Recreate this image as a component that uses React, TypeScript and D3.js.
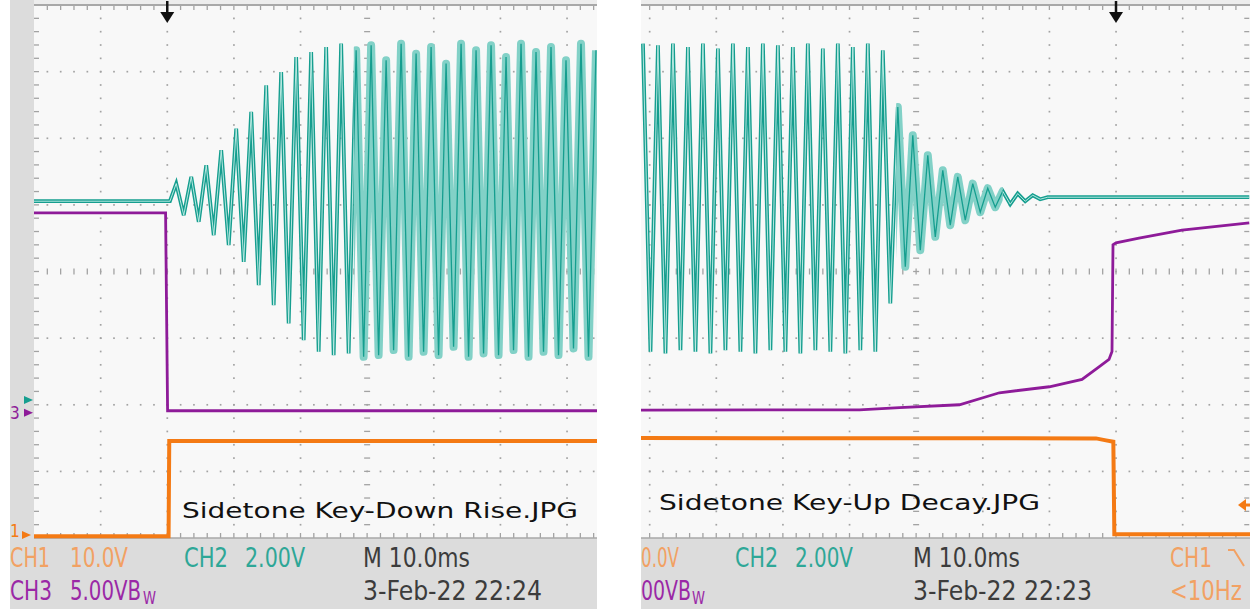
import { useMemo } from "react";
import * as d3 from "d3";

type Pt = [number, number];

const W = 1250;
const H = 609;
const DIV = 66.625;
const SCREEN_TOP = 5;
const SCREEN_BOTTOM = 538;

const ORANGE = "#f47a14";
const TEAL = "#159e8f";
const TEAL_LIGHT = "#82d1c7";
const PURPLE = "#8e1b99";

// channel settings: volts per division and ground marker (divisions from centre)
const CH1_VDIV = 10;
const CH1_GND = -3.955;
const CH2_VDIV = 2;
const CH2_GND = -1.93;
const CH3_VDIV = 5;
const CH3_GND = -2.12;

// time between successive extremes of the sidetone, ms
const HALF_PERIOD = 1.125;

// ---- key-down capture (trigger at 0 ms, 10 ms/div) ----
const riseTime = [-20, 80];
const riseCh2Idle = 5.97;
const riseCh2Start = 1.35;
const riseCh2Peaks = [
  6.5, 5.55, 6.7, 5.35, 7.05, 4.95, 7.5, 4.65, 8.15, 4.15,
  8.65, 3.45, 9.45, 2.85, 9.85, 2.3, 10.3, 1.8, 10.45, 1.45,
  10.6, 1.35, 10.7, 1.4, 10.5, 1.3, 10.65, 1.35, 10.2, 1.5,
  10.7, 1.3, 10.4, 1.45, 10.6, 1.35, 10.1, 1.6, 10.7, 1.3,
  10.5, 1.4, 10.65, 1.35, 10.3, 1.5, 10.7, 1.3, 10.45, 1.45,
  10.6, 1.35, 10.2, 1.55, 10.7, 1.3, 10.5,
];
const riseCh1: Pt[] = [[-20, -0.2], [0.2, -0.2], [0.3, 14.1], [70, 14.1]];
const riseCh3: Pt[] = [[-20, 15], [-0.25, 15], [0.05, 0.15], [70, 0.15]];
const riseLight = [28, 80];

// ---- key-up capture ----
const decayTime = [-80, 20];
const decayCh2Start = -71.0;
const decayCh2Peaks = [
  10.7, 1.45, 10.65, 1.4, 10.7, 1.5, 10.6, 1.45, 10.7, 1.4,
  10.55, 1.5, 10.7, 1.45, 10.6, 1.4, 10.7, 1.5, 10.65, 1.45,
  10.6, 1.4, 10.7, 1.5, 10.55, 1.45, 10.7, 1.4, 10.6, 1.5,
  10.7, 1.45, 10.5,
  2.9, 8.8, 4.0, 7.95, 4.5, 7.35, 4.9, 6.9, 5.25, 6.7,
  5.4, 6.5, 5.64, 6.36, 5.79, 6.27, 5.88, 6.2, 5.97, 6.15, 6.03,
];
const decayCh2Idle = 6.09;
const decayCh1: Pt[] = [[-75, 14.55], [-3, 14.5], [-1.5, 14.2], [-0.4, 14.0], [-0.25, 0.1], [25, 0.1]];
const decayCh3: Pt[] = [
  [-75, 0.2], [-38.5, 0.22], [-32.5, 0.38], [-23.5, 0.6], [-17.5, 1.5], [-10, 1.95],
  [-5.1, 2.5], [-2.55, 3.45], [-1.05, 4.0], [-0.6, 4.6], [-0.45, 12.6], [0, 12.75],
  [3.45, 13.1], [9.9, 13.7], [20, 14.25],
];
const decayLight = [-33, -17];
const decayTrigLevel = 4.5;

// readouts
type Read = { text: string; x: number; y: number; w: number; c: string; size?: number };
const riseReadout: Read[] = [
  { text: "CH1", x: 10, y: 567, w: 40, c: "#f2a163" },
  { text: "10.0V", x: 70, y: 567, w: 58, c: "#f2a163" },
  { text: "CH2", x: 184, y: 567, w: 44, c: "#2ea797" },
  { text: "2.00V", x: 245, y: 567, w: 60, c: "#2ea797" },
  { text: "M 10.0ms", x: 363, y: 567, w: 107, c: "#3c3c3c" },
  { text: "CH3", x: 10, y: 600, w: 42, c: "#9a28a6" },
  { text: "5.00VB", x: 70, y: 600, w: 71, c: "#9a28a6" },
  { text: "W", x: 143, y: 604, w: 13, c: "#9a28a6", size: 17 },
  { text: "3-Feb-22 22:24", x: 363, y: 600, w: 179, c: "#3c3c3c" },
];
const decayReadout: Read[] = [
  { text: "0.0V", x: 641, y: 567, w: 38, c: "#f2a163" },
  { text: "CH2", x: 735, y: 567, w: 43, c: "#2ea797" },
  { text: "2.00V", x: 795, y: 567, w: 58, c: "#2ea797" },
  { text: "M 10.0ms", x: 913, y: 567, w: 107, c: "#3c3c3c" },
  { text: "CH1", x: 1170, y: 567, w: 42, c: "#f2a163" },
  { text: "00VB", x: 641, y: 600, w: 50, c: "#9a28a6" },
  { text: "W", x: 692, y: 604, w: 13, c: "#9a28a6", size: 17 },
  { text: "3-Feb-22 22:23", x: 913, y: 600, w: 179, c: "#3c3c3c" },
  { text: "<10Hz", x: 1170, y: 600, w: 72, c: "#f2a163" },
];

const READ_FONT = "'Liberation Sans Narrow', 'DejaVu Sans Condensed', 'Roboto', sans-serif";
const NOTE_FONT = "'DejaVu Sans', Verdana, sans-serif";

function peaksToPoints(start: number, values: number[]): Pt[] {
  return values.map((v, i) => [start + i * HALF_PERIOD, v] as Pt);
}

function Grid({ x0 }: { x0: number }) {
  const top = SCREEN_TOP;
  const step = DIV / 5;
  const items: JSX.Element[] = [];
  const dot = "#a3a3a3";
  for (let i = 1; i < 10; i++) {
    if (i === 5) continue;
    const gx = x0 + i * DIV;
    for (let j = 1; j < 40; j++) {
      items.push(<rect key={`v${i}-${j}`} x={gx - 0.8} y={top + j * step - 0.8} width={1.7} height={1.7} fill={dot} />);
    }
  }
  for (let k = 1; k < 8; k++) {
    if (k === 4) continue;
    const gy = top + k * DIV;
    for (let j = 1; j < 50; j++) {
      items.push(<rect key={`h${k}-${j}`} x={x0 + j * step - 0.8} y={gy - 0.8} width={1.7} height={1.7} fill={dot} />);
    }
  }
  const cx = x0 + 5 * DIV;
  const cy = top + 4 * DIV;
  for (let j = 1; j < 40; j++) {
    const ty = top + j * step;
    items.push(<line key={`cv${j}`} x1={cx - 3} x2={cx + 3} y1={ty} y2={ty} stroke={dot} strokeWidth={1.3} />);
  }
  for (let j = 1; j < 50; j++) {
    const tx = x0 + j * step;
    items.push(<line key={`ch${j}`} x1={tx} x2={tx} y1={cy - 3} y2={cy + 3} stroke={dot} strokeWidth={1.3} />);
    items.push(<line key={`bt${j}`} x1={tx} x2={tx} y1={top} y2={top + 5} stroke={dot} strokeWidth={1.3} />);
    items.push(<line key={`bb${j}`} x1={tx} x2={tx} y1={SCREEN_BOTTOM - 5} y2={SCREEN_BOTTOM} stroke={dot} strokeWidth={1.3} />);
  }
  for (let j = 1; j < 40; j++) {
    const ty = top + j * step;
    items.push(<line key={`bl${j}`} x1={x0} x2={x0 + 5} y1={ty} y2={ty} stroke={dot} strokeWidth={1.3} />);
    items.push(<line key={`br${j}`} x1={x0 + 10 * DIV - 5} x2={x0 + 10 * DIV} y1={ty} y2={ty} stroke={dot} strokeWidth={1.3} />);
  }
  return <g>{items}</g>;
}

type PanelProps = {
  id: string;
  screenX0: number;
  clipX0: number;
  clipX1: number;
  time: number[];
  ch1: Pt[];
  ch2: Pt[];
  ch3: Pt[];
  light: number[];
};

function Panel({ id, screenX0, clipX0, clipX1, time, ch1, ch2, ch3, light }: PanelProps) {
  const x = useMemo(
    () => d3.scaleLinear().domain(time).range([screenX0, screenX0 + 10 * DIV]),
    [time, screenX0]
  );
  const y = d3.scaleLinear().domain([-4, 4]).range([SCREEN_BOTTOM, SCREEN_TOP]);
  const trace = (vdiv: number, gnd: number) =>
    d3.line<Pt>().x((d) => x(d[0])).y((d) => y(gnd + d[1] / vdiv));

  const p1 = trace(CH1_VDIV, CH1_GND)(ch1) || "";
  const p2 = trace(CH2_VDIV, CH2_GND)(ch2) || "";
  const p3 = trace(CH3_VDIV, CH3_GND)(ch3) || "";
  const lx0 = x(light[0]);
  const lx1 = x(light[1]);
  const trigX = x(0);

  return (
    <g>
      <defs>
        <clipPath id={`${id}-screen`}>
          <rect x={clipX0} y={0} width={clipX1 - clipX0} height={SCREEN_BOTTOM + 2} />
        </clipPath>
        <clipPath id={`${id}-light`}>
          <rect x={lx0} y={0} width={lx1 - lx0} height={SCREEN_BOTTOM} />
        </clipPath>
        <clipPath id={`${id}-dark`}>
          <rect x={clipX0} y={0} width={lx0 - clipX0} height={SCREEN_BOTTOM} />
          <rect x={lx1} y={0} width={Math.max(0, clipX1 - lx1)} height={SCREEN_BOTTOM} />
        </clipPath>
      </defs>
      <rect x={clipX0} y={SCREEN_TOP} width={clipX1 - clipX0} height={SCREEN_BOTTOM - SCREEN_TOP} fill="#f8f8f8" />
      <g clipPath={`url(#${id}-screen)`}>
        <Grid x0={screenX0} />
        <line x1={clipX0} x2={clipX1} y1={SCREEN_TOP} y2={SCREEN_TOP} stroke="#a8a8a8" strokeWidth={2} />
        <line x1={clipX0} x2={clipX1} y1={SCREEN_BOTTOM} y2={SCREEN_BOTTOM} stroke="#a8a8a8" strokeWidth={1.5} />
        <path d={p1} fill="none" stroke={ORANGE} strokeWidth={4} />
        <path d={p3} fill="none" stroke={PURPLE} strokeWidth={2.8} />
        <g clipPath={`url(#${id}-light)`}>
          <path d={p2} fill="none" stroke={TEAL_LIGHT} strokeWidth={8} strokeLinejoin="round" />
          <path d={p2} fill="none" stroke={TEAL} strokeWidth={1.3} />
        </g>
        <g clipPath={`url(#${id}-dark)`}>
          <path d={p2} fill="none" stroke={TEAL} strokeWidth={3.8} />
          <path d={p2} fill="none" stroke="#c8efe9" strokeWidth={0.9} />
        </g>
      </g>
      {trigX > clipX0 && trigX < clipX1 && (
        <g>
          <line x1={trigX} x2={trigX} y1={1} y2={14} stroke="#111" strokeWidth={2.5} />
          <path d={`M${trigX - 7},12 L${trigX + 7},12 L${trigX},23 Z`} fill="#111" />
        </g>
      )}
    </g>
  );
}

function Readout({ items }: { items: Read[] }) {
  return (
    <g fontFamily={READ_FONT}>
      {items.map((d) => (
        <text key={`${d.text}-${d.x}-${d.y}`} x={d.x} y={d.y} fill={d.c} fontSize={d.size ?? 27}
          textLength={d.w} lengthAdjust="spacingAndGlyphs">
          {d.text}
        </text>
      ))}
    </g>
  );
}

export default function App() {
  const riseCh2: Pt[] = [
    [riseTime[0], riseCh2Idle],
    [0.4, riseCh2Idle],
    ...peaksToPoints(riseCh2Start, riseCh2Peaks),
  ];
  const decayPts = peaksToPoints(decayCh2Start, decayCh2Peaks);
  const decayCh2: Pt[] = [
    ...decayPts,
    [decayPts[decayPts.length - 1][0] + HALF_PERIOD, decayCh2Idle],
    [decayTime[1], decayCh2Idle],
  ];

  const yDecay = d3.scaleLinear().domain([-4, 4]).range([SCREEN_BOTTOM, SCREEN_TOP]);
  const trigY = yDecay(CH1_GND + decayTrigLevel / CH1_VDIV);
  const g1 = yDecay(CH1_GND);
  const g2 = yDecay(CH2_GND);
  const g3 = yDecay(CH3_GND);

  return (
    <svg width={W} height={H} style={{ position: "absolute", left: 0, top: 0, background: "#fff" }}>
      {/* left capture frame */}
      <rect x={10} y={0} width={587} height={H} fill="#dcdcdc" />
      <rect x={34} y={0} width={563} height={SCREEN_TOP} fill="#ededed" />
      {/* right capture frame */}
      <rect x={641} y={0} width={609} height={H} fill="#dcdcdc" />
      <rect x={641} y={0} width={609} height={SCREEN_TOP} fill="#ededed" />

      <Panel id="rise" screenX0={34} clipX0={34} clipX1={597} time={riseTime}
        ch1={riseCh1} ch2={riseCh2} ch3={riseCh3} light={riseLight} />
      <Panel id="decay" screenX0={583} clipX0={641} clipX1={1250} time={decayTime}
        ch1={decayCh1} ch2={decayCh2} ch3={decayCh3} light={decayLight} />

      {/* ground markers, left capture */}
      <g fontFamily={READ_FONT} fontSize={17}>
        <path d={`M24,${g2 - 4} L33,${g2} L24,${g2 + 4} Z`} fill={TEAL} />
        <text x={10} y={g3 + 6} fill={PURPLE}>3</text>
        <path d={`M24,${g3 - 4} L33,${g3} L24,${g3 + 4} Z`} fill={PURPLE} />
        <text x={10} y={g1 + 2} fill={ORANGE}>1</text>
        <path d={`M22,${g1 - 4} L31,${g1} L22,${g1 + 4} Z`} fill={ORANGE} />
      </g>
      {/* trigger level, right capture */}
      <path d={`M1238,${trigY} L1246,${trigY - 6} L1246,${trigY + 6} Z`} fill={ORANGE} />
      <line x1={1244} x2={1250} y1={trigY} y2={trigY} stroke={ORANGE} strokeWidth={3} />

      <Readout items={riseReadout} />
      <Readout items={decayReadout} />
      <path d="M1228,550 L1234,550 L1244,566" fill="none" stroke="#f2a163" strokeWidth={2} />

      <text x={182} y={518} fontFamily={NOTE_FONT} fontSize={22} fill="#111" textLength={396} lengthAdjust="spacingAndGlyphs">
        Sidetone Key-Down Rise.JPG
      </text>
      <text x={659} y={510} fontFamily={NOTE_FONT} fontSize={22} fill="#111" textLength={381} lengthAdjust="spacingAndGlyphs">
        Sidetone Key-Up Decay.JPG
      </text>
    </svg>
  );
}
